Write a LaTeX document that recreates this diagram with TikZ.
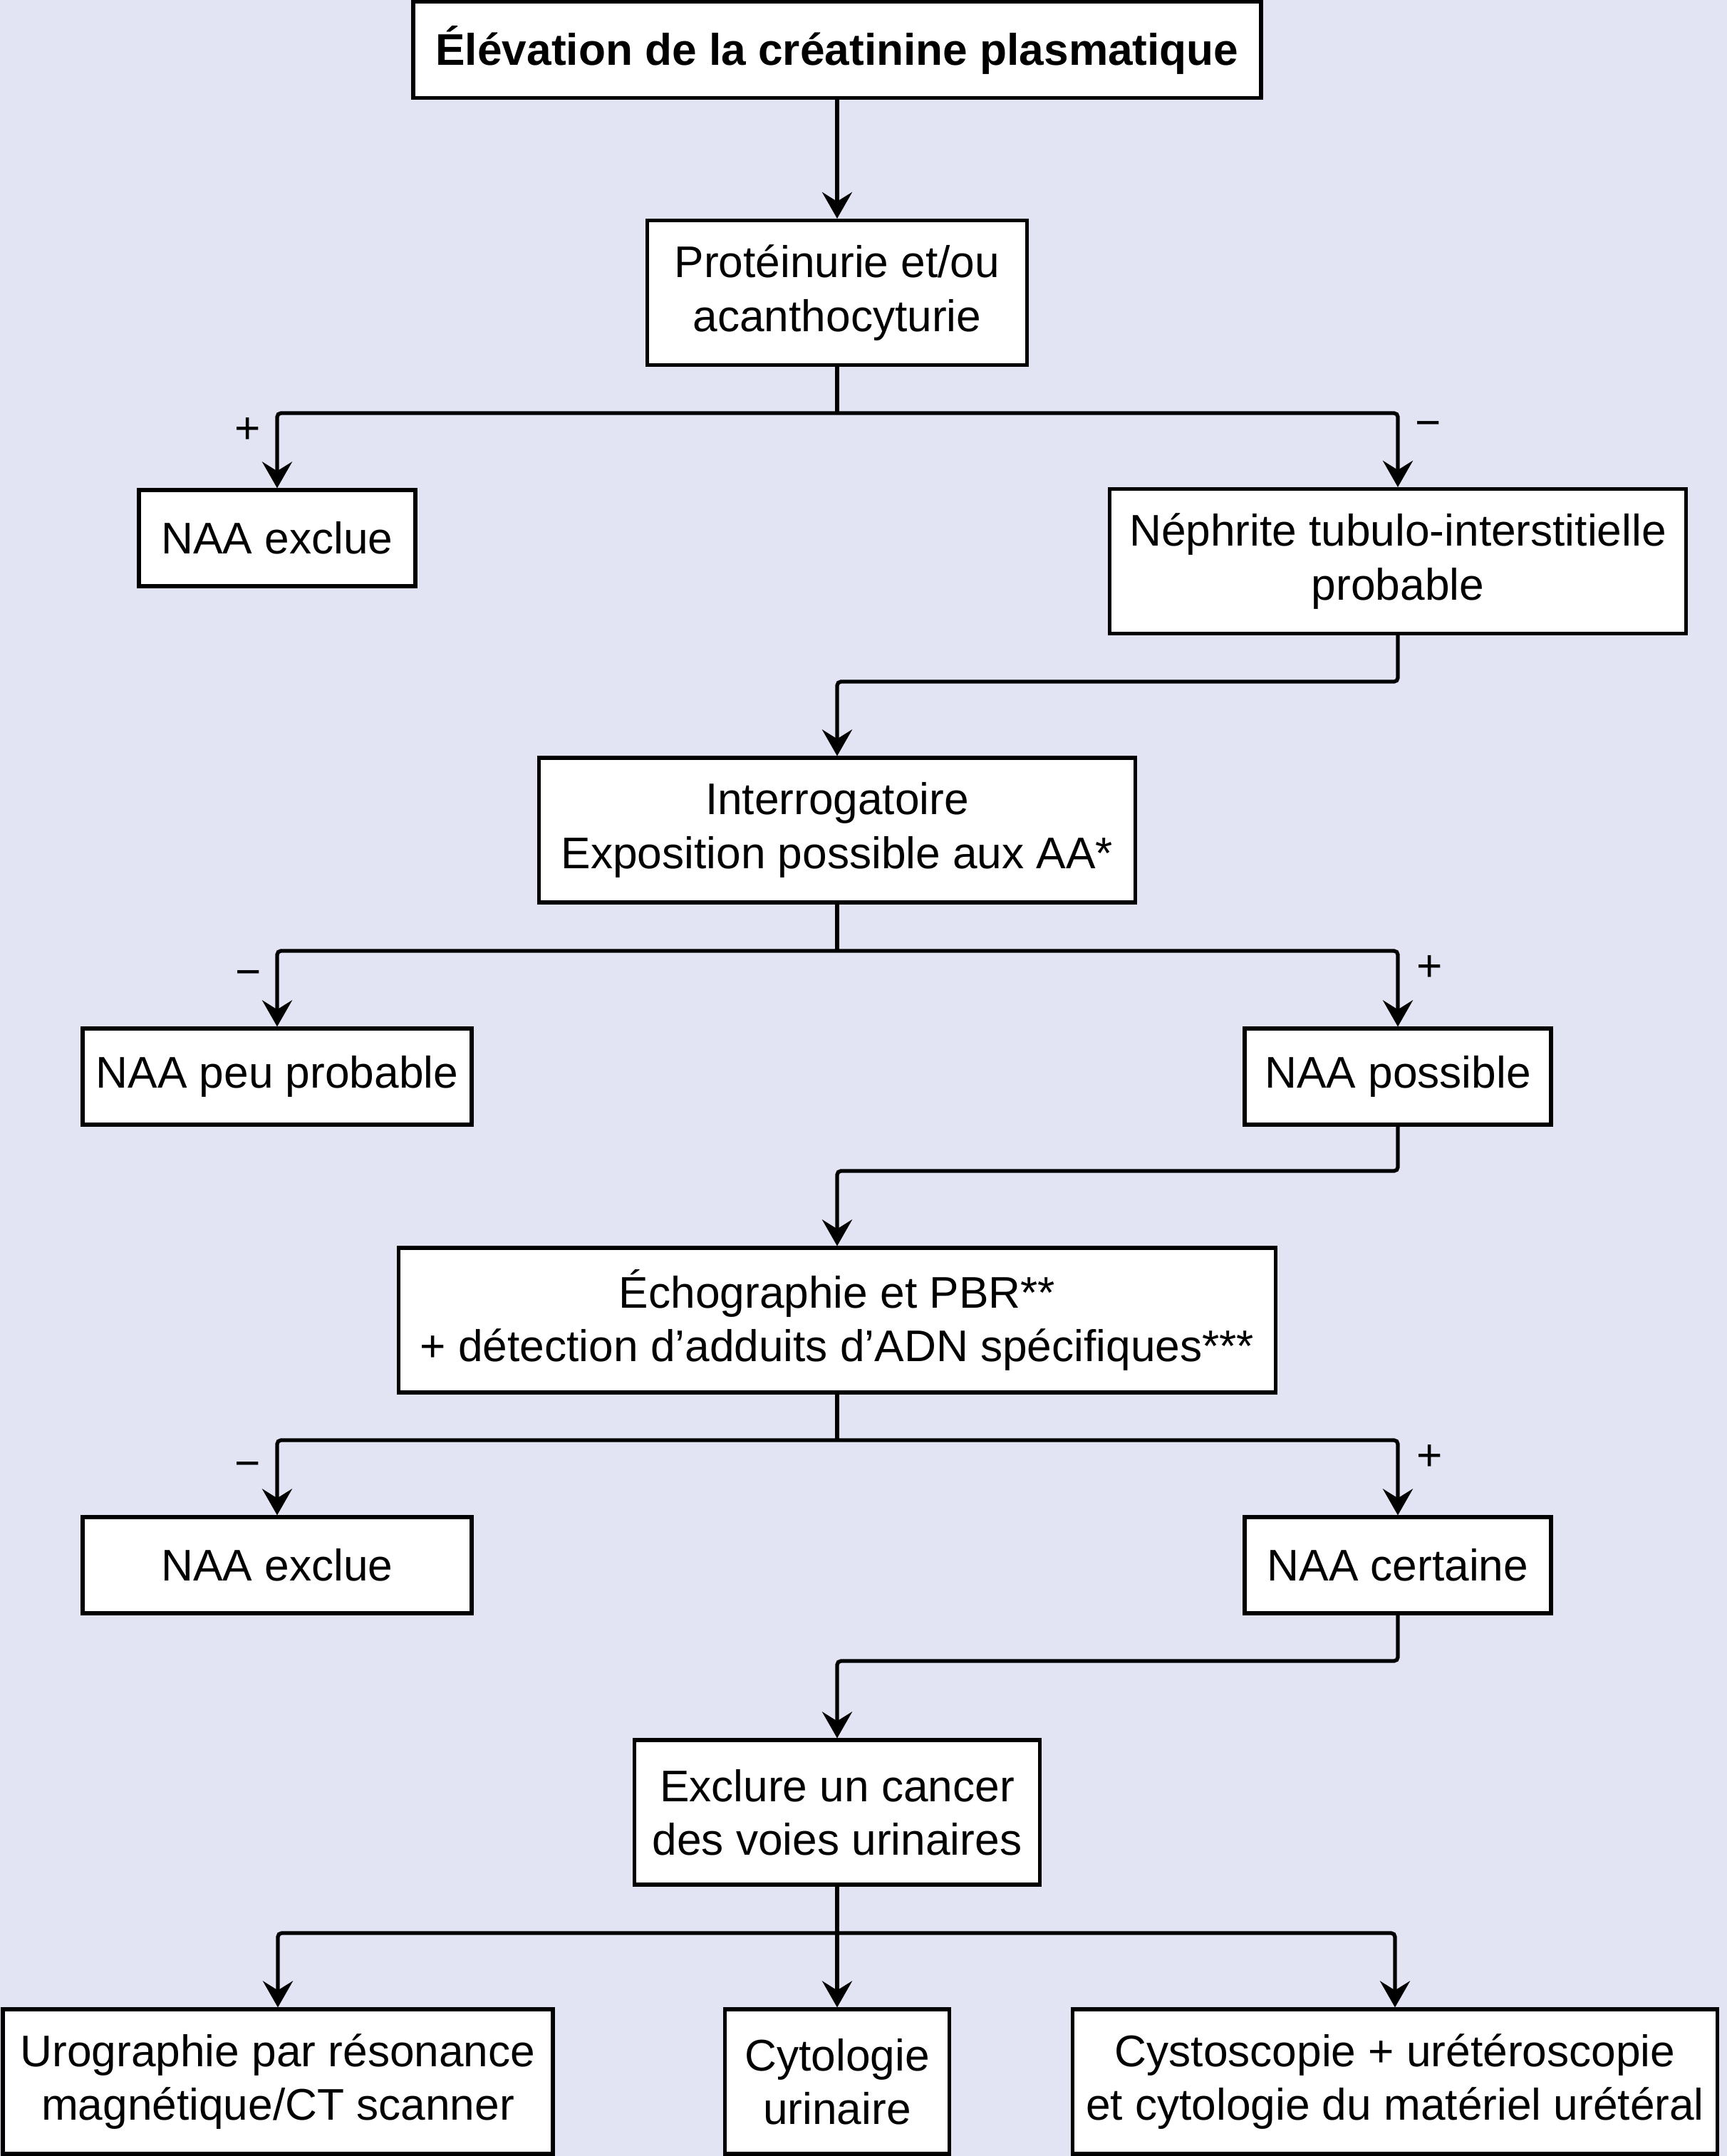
\documentclass[tikz,border=0pt]{standalone}
\usepackage{fontspec}
\setmainfont{Liberation Sans}
\usepackage{xcolor}
\usepackage{tikz}
\usetikzlibrary{arrows.meta,positioning,calc}
\definecolor{bglav}{RGB}{226,228,243}
\newcommand{\boxfont}{\fontsize{17.7pt}{21.4pt}\selectfont}

\begin{document}
\begin{tikzpicture}[
            font=\boxfont,
            box/.style={draw,line width=1.5pt,fill=white,align=center,inner sep=2pt,minimum height=1.35cm},
            tall/.style={box,minimum height=2.03cm},
            line/.style={line width=1.5pt,rounded corners=1.5pt},
            arrow/.style={line width=1.5pt,rounded corners=1.5pt,-{Stealth[length=3.7mm,width=4.2mm,inset=1.3mm]}},
            sign/.style={inner sep=0pt}
        ]
            \fill[bglav] (0,0) rectangle (24.24,-30.27);
            \useasboundingbox (0,0) rectangle (24.24,-30.27);

            \node[box,minimum width=11.9cm,font=\boxfont\bfseries] (elev) at (11.75,-0.70) {Élévation de la créatinine plasmatique};
            \node[tall,minimum width=5.33cm] (prot) at (11.75,-4.11) {Protéinurie et/ou\\acanthocyturie};
            \node[box,minimum width=3.88cm] (exclA) at (3.89,-7.555) {NAA exclue};
            \node[tall,minimum width=8.09cm] (nephr) at (19.62,-7.88) {Néphrite tubulo-interstitielle\\probable};
            \node[tall,minimum width=8.37cm] (inter) at (11.75,-11.655) {Interrogatoire\\Exposition possible aux AA*};
            \node[box,minimum width=5.46cm] (peu) at (3.89,-15.115) {NAA peu probable};
            \node[box,minimum width=4.30cm] (poss) at (19.62,-15.115) {NAA possible};
            \node[tall,minimum width=12.31cm] (echo) at (11.75,-18.535) {Échographie et PBR**\\+ détection d’adduits d’ADN spécifiques***};
            \node[box,minimum width=5.46cm] (exclB) at (3.89,-21.975) {NAA exclue};
            \node[box,minimum width=4.30cm] (cert) at (19.62,-21.975) {NAA certaine};
            \node[tall,minimum width=5.69cm] (canc) at (11.75,-25.445) {Exclure un cancer\\des voies urinaires};
            \node[tall,minimum width=7.72cm] (uro) at (3.90,-29.225) {Urographie par résonance\\magnétique/CT scanner};
            \node[tall,minimum width=3.15cm] (cyto) at (11.75,-29.225) {Cytologie\\urinaire};
            \node[tall,minimum width=9.05cm] (cysto) at (19.58,-29.225) {Cystoscopie + urétéroscopie\\et cytologie du matériel urétéral};

            % branch points
            \coordinate (j1) at (11.75,-5.80);
            \coordinate (j2) at (11.75,-9.57);
            \coordinate (j3) at (11.75,-13.35);
            \coordinate (j4) at (11.75,-16.44);
            \coordinate (j5) at (11.75,-20.22);
            \coordinate (j6) at (11.75,-23.32);
            \coordinate (j7) at (11.75,-27.14);

            \draw[arrow] (elev) -- (prot);
            \draw[line] (prot) -- (j1);
            \draw[arrow] (j1) -| (exclA);
            \draw[arrow] (j1) -| (nephr);
            \draw[arrow] (nephr.south) |- (j2) -- (inter.north);
            \draw[line] (inter) -- (j3);
            \draw[arrow] (j3) -| (peu);
            \draw[arrow] (j3) -| (poss);
            \draw[arrow] (poss.south) |- (j4) -- (echo.north);
            \draw[line] (echo) -- (j5);
            \draw[arrow] (j5) -| (exclB);
            \draw[arrow] (j5) -| (cert);
            \draw[arrow] (cert.south) |- (j6) -- (canc.north);
            \draw[line] (canc) -- (j7);
            \draw[arrow] (j7) -| (uro);
            \draw[arrow] (j7) -- (cyto);
            \draw[arrow] (j7) -| (cysto);

            % signs
            \node[sign] (s1p) at (3.48,-6.05) {+};
            \node[sign] (s1m) at (20.05,-6.03) {−};
            \node[sign] (s2m) at (3.49,-13.74) {−};
            \node[sign] (s2p) at (20.07,-13.60) {+};
            \node[sign] (s3m) at (3.48,-20.64) {−};
            \node[sign] (s3p) at (20.07,-20.47) {+};
        \end{tikzpicture}
\end{document}
